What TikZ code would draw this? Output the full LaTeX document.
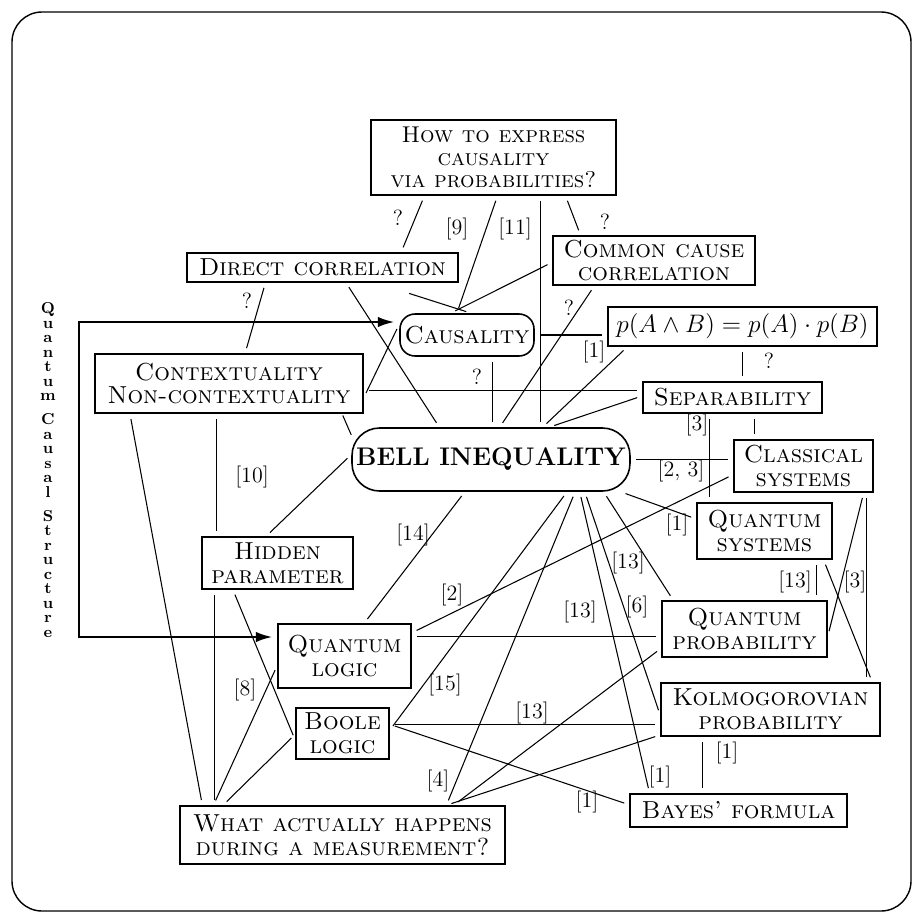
\documentclass[tikz,border=0pt]{standalone}
\usetikzlibrary{arrows.meta}

\tikzstyle{box} = [draw, rectangle, line width=0.9pt, align=center, inner sep=1pt,
 font=\scshape\fontsize{14}{13.5}\selectfont]
\tikzstyle{roundbox} = [box, rounded corners=0.3cm]
\tikzstyle{link} = [line width=0.6pt, shorten <=3pt, shorten >=3pt]
\tikzstyle{lbl} = [inner sep=0pt, font=\fontsize{12.5}{12.5}\selectfont]
\tikzstyle{qcs} = [line width=1.6pt, >={Latex[length=3.4mm, width=2.1mm]}, shorten <=2.5pt, shorten >=2.5pt]

\begin{document}
\begin{tikzpicture}[x=0.02cm, y=-0.02cm]
	\useasboundingbox (0,0) rectangle (914,914);
	\draw [line width=0.8pt, rounded corners=0.6cm] (12,12) rectangle (911,911);
	
	\node [box, minimum width=4.9cm, minimum height=1.5cm, font=\scshape\fontsize{13}{13}\selectfont] (how) at (493.5,157.5) {How to express\\causality\\via probabilities?};
	\node [box, minimum width=5.42cm, minimum height=0.58cm] (direct) at (322.5,267.5) {Direct correlation};
	\node [box, minimum width=4.04cm, minimum height=0.98cm] (common) at (654,260.5) {Common cause\\correlation};
	\node [roundbox, minimum width=2.68cm, minimum height=0.84cm] (causal) at (467,335) {Causality};
	\node [box, minimum width=5.38cm, minimum height=0.78cm, font=\fontsize{15.5}{15.5}\selectfont] (pab) at (742.5,326.5) {$p(A\wedge B)=p(A)\cdot p(B)$};
	\node [box, minimum width=5.36cm, minimum height=1.18cm] (context) at (229,383.5) {Contextuality\\Non-contextuality};
	\node [box, minimum width=3.58cm, minimum height=0.62cm] (separ) at (732.5,397.5) {Separability};
	\node [box, rounded corners=0.55cm, minimum width=5.56cm, minimum height=1.26cm, font=\bfseries\fontsize{14.5}{14.5}\selectfont] (bell) at (491,459.5) {BELL INEQUALITY};
	\node [box, minimum width=2.78cm, minimum height=1.04cm] (classic) at (803.5,466) {Classical\\systems};
	\node [box, minimum width=2.7cm, minimum height=1.12cm] (qsys) at (764.5,531) {Quantum\\systems};
	\node [box, minimum width=3.02cm, minimum height=1.04cm] (hidden) at (277.5,563) {Hidden\\parameter};
	\node [box, minimum width=2.66cm, minimum height=1.28cm] (qlogic) at (344.5,656) {Quantum\\logic};
	\node [box, minimum width=3.3cm, minimum height=1.12cm] (qprob) at (744.5,629) {Quantum\\probability};
	\node [box, minimum width=4.38cm, minimum height=1.06cm] (kolmo) at (770.5,709.5) {Kolmogorovian\\probability};
	\node [box, minimum width=1.86cm, minimum height=1.02cm] (boole) at (342.5,733.5) {Boole\\logic};
	\node [box, minimum width=4.34cm, minimum height=0.66cm] (bayes) at (738.5,810.5) {Bayes' formula};
	\node [box, minimum width=6.5cm, minimum height=1.16cm] (what) at (342.5,835) {What actually happens\\during a measurement?};
	
	\node [align=center, inner sep=0pt, font=\bfseries\fontsize{9}{8.25}\selectfont] (qcslabel) at (48,470)
	{Q\\u\\a\\n\\t\\u\\m\\[5.4pt]C\\a\\u\\s\\a\\l\\[5.4pt]S\\t\\r\\u\\c\\t\\u\\r\\e};
	\coordinate (qtop) at (79,322);
	\coordinate (qbot) at (79,637);
	\draw [qcs, <->] (qtop -| causal.west) -- (qtop) -- (qbot) -- (qbot -| qlogic.west);
	
	\draw [link] (how.209) -- (direct.11);
	\draw [link] (how.276) -- (causal.115);
	\draw [link] (how.332) -- (common.161);
	\draw [link] (how.321) -- (how.321 |- bell.north);
	\draw [link] (direct.195) -- (context.62);
	\draw [link, shorten <=0.7cm] (direct.344) -- (causal.79);
	\draw [link] (direct.327) -- (bell.148);
	\draw [link] (common.181) -- (causal.127);
	\draw [link] (common.203) -- (bell.75);
	\draw [link] (causal.east) -- (causal.east -| pab.west);
	\draw [link] (context.354) -- (causal.171);
	\draw [link] (causal.320) -- (causal.320 |- bell.north);
	\draw [link] (context.357) -- (context.357 -| separ.west);
	\draw [link, shorten <=1pt, shorten >=0pt] (context.345) -- (bell.170);
	\draw [link] (context.248) -- (context.248 |- hidden.north);
	\draw [link] (context.197) -- (what.168);
	\draw [link] (hidden.203) -- (hidden.203 |- what.north);
	\draw [link] (hidden.113) -- (bell.178);
	\draw [link] (hidden.211) -- (boole.188);
	\draw [link] (qlogic.188) -- (what.167);
	\draw [link] (boole.181) -- (what.166);
	\draw [link] (qlogic.59) -- (bell.231);
	\draw [link] (qlogic.19) -- (classic.187);
	\draw [link] (qlogic.16) -- (qlogic.16 -| qprob.west);
	\draw [link] (boole.4) -- (bell.337);
	\draw [link] (boole.11) -- (boole.11 -| kolmo.west);
	\draw [link] (boole.11) -- (bayes.177);
	\draw [link] (what.16) -- (bell.339);
	\draw [link] (what.15) -- (qprob.193);
	\draw [link] (what.16) -- (kolmo.193);
	\draw [link] (bell.340) -- (bayes.169);
	\draw [link] (bell.341) -- (kolmo.183);
	\draw [link] (bell.344) -- (qprob.158);
	\draw [link] (bell.346) -- (qsys.170);
	\draw [link] (bell.east) -- (bell.east -| classic.west);
	\draw [link] (bell.32) -- (pab.190);
	\draw [link] (bell.29) -- (separ.179);
	\draw [link] (pab.south) -- (pab.south |- separ.north);
	\draw [link] (separ.215) -- (separ.215 |- qsys.north);
	\draw [link] (separ.323) -- (separ.323 |- classic.north);
	\draw [link] (classic.337) -- (classic.337 |- kolmo.north);
	\draw [link] (classic.336) -- (qprob.355);
	\draw [link] (qsys.331) -- (qsys.331 |- qprob.north);
	\draw [link] (qsys.334) -- (kolmo.15);
	\draw [link] (kolmo.202) -- (kolmo.202 |- bayes.north);
	
	\node [lbl] (lq1) at (398,218) {?};
	\node [lbl] (l9) at (457,229) {[9]};
	\node [lbl] (l11) at (515,229) {[11]};
	\node [lbl] (lq2) at (605,222) {?};
	\node [lbl] (lq3) at (247,301) {?};
	\node [lbl] (lq4) at (569,308) {?};
	\node [lbl] (l1a) at (594,352) {[1]};
	\node [lbl] (lq5) at (477,377) {?};
	\node [lbl] (lq6) at (769,361) {?};
	\node [lbl] (l3a) at (697,425) {[3]};
	\node [lbl] (l23) at (681,471) {[2, 3]};
	\node [lbl] (l10) at (252,477) {[10]};
	\node [lbl] (l1b) at (677,525) {[1]};
	\node [lbl] (l14) at (413,535) {[14]};
	\node [lbl] (l13a) at (628,563) {[13]};
	\node [lbl] (l13b) at (795,582) {[13]};
	\node [lbl] (l3b) at (855,582) {[3]};
	\node [lbl] (l2) at (452,595) {[2]};
	\node [lbl] (l13c) at (580,612) {[13]};
	\node [lbl] (l6) at (637,607) {[6]};
	\node [lbl] (l15) at (445,685) {[15]};
	\node [lbl] (l8) at (245,690) {[8]};
	\node [lbl] (l13d) at (532,713) {[13]};
	\node [lbl] (l1c) at (727,753) {[1]};
	\node [lbl] (l1d) at (660,777) {[1]};
	\node [lbl] (l4) at (438,781) {[4]};
	\node [lbl] (l1e) at (587,802) {[1]};
	
\end{tikzpicture}
\end{document}
